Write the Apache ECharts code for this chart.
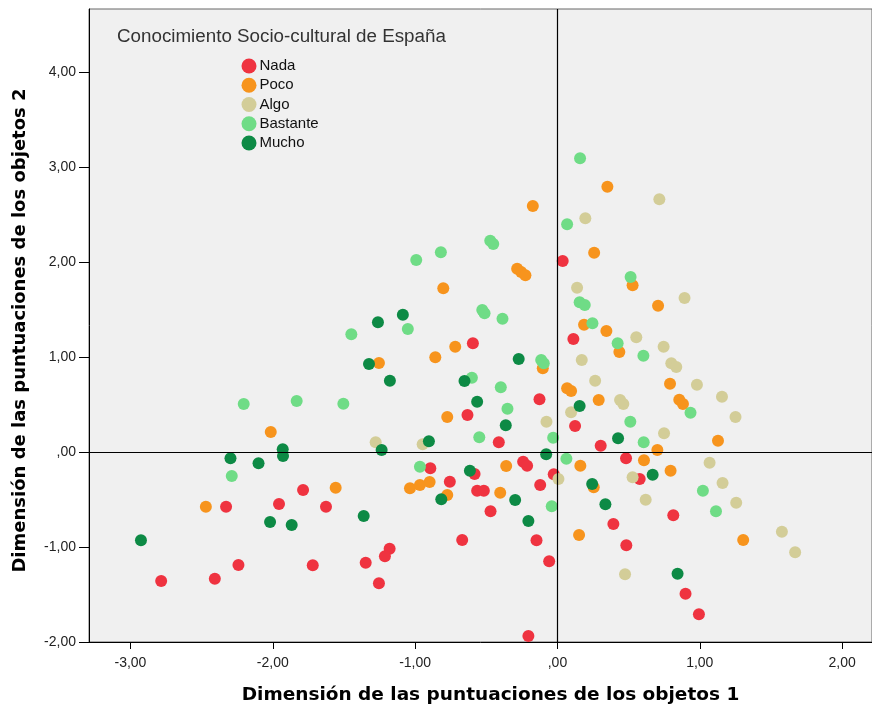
<!DOCTYPE html>
<html>
<head>
<meta charset="utf-8">
<script src="https://cdn.jsdelivr.net/npm/echarts@6/dist/echarts.min.js"></script>
<style>
  html, body { margin: 0; padding: 0; background: #fff; }
  #chart { width: 872px; height: 711px; }
</style>
</head>
<body>
<div id="chart"></div>
<script>
const legendTitle = 'Conocimiento Socio-cultural de España'
const categories = ['Nada', 'Poco', 'Algo', 'Bastante', 'Mucho']
const colors = ['#ef3340', '#f7941d', '#d3cd98', '#6fdc86', '#0d8a45']
const xTicks = [-3, -2, -1, 0, 1, 2]
const yTicks = [-2, -1, 0, 1, 2, 3, 4]

// [dim1, dim2]
const nada = [
  [-1.787, -0.40], [-2.328, -0.576], [-1.956, -0.547], [-1.626, -0.576], [-2.784, -1.358],
  [-2.407, -1.334], [-2.241, -1.189], [-1.719, -1.193], [-0.594, 1.144], [-0.126, 0.555],
  [-0.632, 0.389], [0.037, 2.011], [0.112, 1.189], [-0.412, 0.102], [-0.893, -0.172],
  [-0.241, -0.102], [-0.213, -0.144], [-0.026, -0.235], [-0.582, -0.232], [-0.756, -0.313],
  [-0.564, -0.407], [-0.517, -0.407], [-0.121, -0.347], [-0.470, -0.624], [-0.669, -0.926],
  [-0.147, -0.929], [-0.058, -1.151], [-1.179, -1.018], [-1.212, -1.098], [-1.347, -1.165],
  [-1.254, -1.382], [-0.204, -1.937], [0.124, 0.274], [0.304, 0.066], [0.482, -0.066],
  [0.578, -0.284], [0.814, -0.666], [0.393, -0.758], [0.484, -0.982], [0.900, -1.492],
  [0.994, -1.708]
]
const poco = [
  [-2.014, 0.211], [-1.558, -0.376], [-2.470, -0.576], [-0.173, 2.589], [-0.283, 1.929],
  [-0.255, 1.895], [-0.225, 1.860], [-0.802, 1.723], [-0.718, 1.108], [-0.858, 0.997],
  [-1.254, 0.937], [-0.103, 0.881], [-0.774, 0.368], [0.068, 0.671], [0.096, 0.642],
  [-0.360, -0.147], [-1.036, -0.382], [-0.966, -0.347], [-0.898, -0.316], [-0.774, -0.453],
  [-0.402, -0.428], [0.351, 2.793], [0.258, 2.098], [0.528, 1.755], [0.707, 1.540],
  [0.187, 1.340], [0.344, 1.274], [0.435, 1.053], [0.791, 0.719], [0.290, 0.547],
  [0.856, 0.551], [0.882, 0.505], [0.702, 0.021], [1.128, 0.119], [0.161, -0.144],
  [0.608, -0.087], [0.795, -0.197], [0.255, -0.372], [0.152, -0.874], [1.305, -0.926]
]
const algo = [
  [-0.077, 0.319], [-1.277, 0.102], [-0.947, 0.081], [0.007, -0.284], [0.716, 2.660],
  [0.196, 2.460], [0.138, 1.729], [0.893, 1.621], [0.554, 1.207], [0.746, 1.108],
  [0.171, 0.968], [0.800, 0.934], [0.835, 0.895], [0.265, 0.751], [0.980, 0.708],
  [1.156, 0.582], [0.440, 0.547], [0.463, 0.505], [1.251, 0.368], [0.096, 0.418],
  [0.749, 0.197], [1.069, -0.113], [0.528, -0.266], [1.160, -0.326], [0.620, -0.502],
  [1.256, -0.534], [1.577, -0.839], [1.670, -1.056], [0.475, -1.287]
]
const bastante = [
  [-2.204, 0.505], [-1.832, 0.537], [-1.504, 0.508], [-2.288, -0.253], [-0.472, 2.224],
  [-0.451, 2.189], [-0.992, 2.021], [-0.819, 2.102], [-0.528, 1.495], [-0.512, 1.460],
  [-0.386, 1.403], [-1.051, 1.295], [-1.448, 1.239], [-0.114, 0.968], [-0.096, 0.934],
  [-0.601, 0.782], [-0.398, 0.681], [-0.351, 0.456], [-0.549, 0.155], [-0.030, 0.151],
  [-0.966, -0.155], [0.063, -0.071], [-0.040, -0.572], [0.159, 3.092], [0.068, 2.397],
  [0.514, 1.842], [0.156, 1.576], [0.192, 1.547], [0.246, 1.355], [0.423, 1.144],
  [0.604, 1.014], [0.935, 0.414], [0.512, 0.319], [0.606, 0.102], [1.022, -0.407],
  [1.114, -0.624]
]
const mucho = [
  [-1.930, 0.028], [-1.928, -0.042], [-2.297, -0.066], [-2.100, -0.119], [-2.019, -0.737],
  [-1.867, -0.768], [-2.926, -0.929], [-1.086, 1.445], [-1.261, 1.365], [-1.324, 0.926],
  [-1.177, 0.751], [-0.272, 0.979], [-0.653, 0.747], [-0.564, 0.529], [-0.363, 0.281],
  [-1.235, 0.021], [-0.903, 0.113], [-0.079, -0.024], [-0.615, -0.197], [-0.816, -0.498],
  [-0.297, -0.505], [-1.361, -0.674], [-0.204, -0.726], [0.156, 0.484], [0.426, 0.144],
  [0.669, -0.239], [0.244, -0.337], [0.337, -0.551], [0.844, -1.281]
]
const seriesData = [nada, poco, algo, bastante, mucho]

const fmt = v => {
  let s = Math.abs(v).toFixed(2).replace('.', ',')
  if (s.startsWith('0,')) s = s.slice(1)
  return (v < 0 ? '-' : '') + s
}

const chart = echarts.init(document.getElementById('chart'))

const option = {
  backgroundColor: '#ffffff',
  animation: false,
  title: {
    text: legendTitle,
    left: 112,
    top: 22,
    textStyle: { fontFamily: 'Liberation Sans', fontSize: 18.8, fontWeight: 'normal', color: '#333' }
  },
  legend: {
    data: categories,
    orient: 'vertical',
    left: 236.5,
    top: 53.5,
    itemWidth: 15,
    itemHeight: 15,
    itemGap: 4.25,
    icon: 'circle',
    textStyle: { fontFamily: 'Liberation Sans', fontSize: 15, color: '#111', padding: [0, 0, 0, -2] }
  },
  grid: {
    left: 89,
    right: -1,
    top: 9,
    bottom: 69,
    show: true,
    backgroundColor: '#f0f0f0',
    borderColor: '#666',
    borderWidth: 1
  },
  xAxis: {
    type: 'value',
    min: -3.291,
    max: 2.21,
    name: 'Dimensión de las puntuaciones de los objetos 1',
    nameLocation: 'middle',
    nameGap: 44,
    nameTextStyle: { fontFamily: 'DejaVu Sans', fontSize: 18.5, fontWeight: 'bold', color: '#000', padding: [0, 0, 0, 20] },
    axisLine: { onZero: false, lineStyle: { color: '#000', width: 1 } },
    axisTick: { show: true, length: 7, customValues: xTicks, lineStyle: { color: '#000' } },
    axisLabel: { customValues: xTicks, formatter: fmt, margin: 14, fontFamily: 'Liberation Sans', fontSize: 14, color: '#222' },
    splitLine: { show: false }
  },
  yAxis: {
    type: 'value',
    min: -2,
    max: 4.663,
    name: 'Dimensión de las puntuaciones de los objetos 2',
    nameLocation: 'middle',
    nameGap: 60,
    nameTextStyle: { fontFamily: 'DejaVu Sans', fontSize: 18, fontWeight: 'bold', color: '#000', padding: [0, 0, 0, -10] },
    axisLine: { onZero: false, lineStyle: { color: '#000', width: 1 } },
    axisTick: { show: true, length: 10, customValues: yTicks, lineStyle: { color: '#000' } },
    axisLabel: { customValues: yTicks, formatter: fmt, margin: 13, fontFamily: 'Liberation Sans', fontSize: 14, color: '#222' },
    splitLine: { show: false }
  },
  series: [
    {
      type: 'scatter',
      data: [],
      silent: true,
      z: 1,
      markLine: {
        silent: true,
        symbol: 'none',
        label: { show: false },
        lineStyle: { color: '#000', width: 1.2, type: 'solid' },
        data: [{ xAxis: 0 }, { yAxis: 0 }]
      }
    },
    ...categories.map((name, i) => ({
      name,
      type: 'scatter',
      data: seriesData[i],
      symbolSize: 12,
      z: 2,
      itemStyle: { color: colors[i], opacity: 1 }
    }))
  ]
}

chart.setOption(option)
</script>
</body>
</html>
